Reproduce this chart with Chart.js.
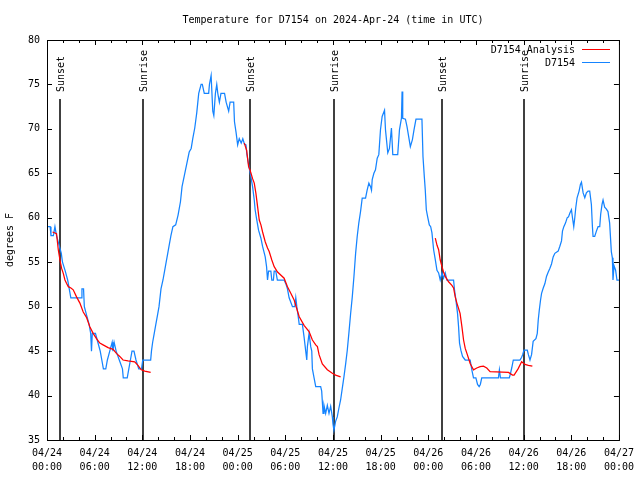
<!DOCTYPE html>
<html>
<head>
<meta charset="utf-8">
<script src="https://cdn.jsdelivr.net/npm/chart.js@4.4.1/dist/chart.umd.min.js"></script>
<style>
    html, body { margin: 0; padding: 0; background: #fff; }
</style>
</head>
<body>
<canvas id="tempChart" width="640" height="480"></canvas>
<script>
// ==========================================
// DATOS
// ==========================================

const chartTitle = 'Temperature for D7154 on 2024-Apr-24 (time in UTC)';
const seriesNames = ['D7154 Analysis', 'D7154'];

// hours since 04/24 00:00 UTC
const obsHours = [
    0, 0.4, 0.5, 0.8, 1.0, 1.2, 1.5, 1.8, 1.95, 2.3, 2.6, 2.8, 3.0, 4.3, 4.4, 4.6, 4.7, 5.0, 5.3, 5.5,
    5.6, 5.7, 6.1, 6.4, 6.7, 6.9, 7.1, 7.4, 7.6, 7.9, 8.2, 8.3, 8.45, 8.7, 9.1, 9.5, 9.6, 10.1, 10.3, 10.5,
    10.7, 10.95, 11.2, 11.55, 11.9, 12.05, 13.05, 13.15, 13.3, 13.5, 13.7, 13.9, 14.1, 14.35, 14.6, 14.8, 15.0, 15.2, 15.4, 15.6,
    15.85, 16.2, 16.5, 16.8, 17.0, 17.3, 17.6, 17.9, 18.15, 18.35, 18.6, 18.85, 19.1, 19.4, 19.55, 19.8, 20.35, 20.45, 20.66, 20.87,
    21.0, 21.2, 21.37, 21.5, 21.7, 21.9, 22.35, 22.55, 22.87, 23.05, 23.5, 23.6, 23.8, 24.0, 24.2, 24.45, 24.65, 24.85, 25.05, 25.15,
    25.45, 25.67, 25.88, 26.09, 26.2, 26.38, 26.63, 26.93, 27.13, 27.47, 27.64, 27.76, 27.89, 28.18, 28.3, 28.5, 28.6, 28.8, 29.0, 29.85,
    30.1, 30.27, 30.48, 30.9, 31.2, 31.32, 31.45, 31.61, 31.75, 32.15, 32.36, 32.57, 32.7, 32.78, 32.99, 33.2, 33.33, 33.41, 33.62, 33.83,
    34.45, 34.58, 34.75, 34.87, 35.08, 35.29, 35.5, 35.71, 35.92, 36.0, 36.12, 36.33, 36.54, 36.75, 36.96, 37.17, 37.38, 37.6, 37.8, 38.0,
    38.22, 38.43, 38.64, 38.85, 39.05, 39.25, 39.47, 39.68, 40.1, 40.3, 40.52, 40.73, 40.85, 40.94, 41.15, 41.35, 41.57, 41.77, 41.98, 42.19,
    42.49, 42.61, 42.9, 43.11, 43.36, 43.53, 44.15, 44.37, 44.62, 44.7, 44.78, 45.12, 45.32, 45.74, 46.0, 46.2, 46.45, 47.2, 47.33, 47.5,
    47.62, 47.75, 47.92, 48.13, 48.3, 48.46, 48.67, 48.88, 49.09, 49.3, 49.5, 49.72, 49.92, 50.13, 50.34, 51.18, 51.3, 51.47, 51.68, 51.81,
    51.93, 52.1, 52.31, 52.65, 53.27, 53.48, 53.69, 53.99, 54.2, 54.4, 54.55, 54.73, 56.83, 56.95, 57.08, 58.2, 58.35, 58.5, 58.7, 59.54,
    59.75, 59.88, 60.04, 60.46, 60.6, 60.8, 61.0, 61.2, 61.55, 61.72, 61.84, 61.97, 62.13, 62.26, 62.47, 62.68, 62.88, 63.1, 63.3, 63.51,
    63.72, 63.93, 64.35, 64.56, 64.77, 64.89, 65.06, 65.27, 65.48, 65.65, 65.81, 66.02, 66.15, 66.31, 66.44, 66.56, 66.73, 66.98, 67.15, 67.28,
    67.49, 67.7, 67.9, 68.11, 68.32, 68.53, 68.66, 68.74, 68.95, 69.16, 69.37, 69.58, 69.7, 69.87, 70.0, 70.2, 70.4, 70.62, 70.83, 71.04,
    71.17, 71.25, 71.38, 71.58, 71.75, 72.0
];
const obsTemps = [
    59, 59, 58, 58, 59, 58, 57, 56, 55, 54, 53, 52, 51, 51, 52, 52, 50, 49, 48, 47,
    45, 47, 47, 46, 45, 44, 43, 43, 44, 45, 46, 45, 46, 45, 44, 43, 42, 42, 43, 44,
    45, 45, 44, 43, 43, 44, 44, 45, 46, 47, 48, 49, 50, 52, 53, 54, 55, 56, 57, 58,
    59, 59.2, 60.3, 61.8, 63.5, 64.8, 66.1, 67.4, 67.8, 68.9, 70.1, 71.8, 74, 75, 75, 74, 74, 75, 76, 72,
    71.5, 74, 75, 74, 73, 74, 74, 73, 72, 73, 73, 70.8, 69.6, 68.2, 68.9, 68.4, 68.9, 68.3, 68.2, 67.2,
    65.6, 64.6, 63.5, 62, 60.9, 59.9, 58.6, 57.7, 56.8, 55.6, 54.5, 53, 54, 54, 53, 53, 54, 54, 53, 53,
    52.5, 52, 51, 50, 50, 51, 50, 49, 48, 48, 46.6, 45, 44, 45.5, 47, 45.5, 45, 43, 42, 41,
    41, 40.5, 38, 38.9, 38, 38.9, 38, 38.8, 37.6, 36.8, 36.1, 37.1, 37.6, 38.6, 39.5, 40.8, 42.1, 43.6, 45.1, 47,
    49.2, 51.1, 53.4, 56, 57.9, 59.4, 60.7, 62.2, 62.2, 63.1, 63.9, 63.5, 63.1, 64.3, 65, 65.4, 66.7, 67.1, 69.9, 71.4,
    72.1, 69.9, 67.3, 67.8, 70.1, 67.1, 67.1, 69.9, 71.2, 74.2, 71.2, 71.1, 70.25, 68, 68.8, 69.9, 71.1, 71.1, 66.9, 64.6,
    63.1, 60.9, 60.1, 59.2, 59, 58.3, 56.4, 55.3, 54.1, 53.8, 53, 53.8, 53.2, 53.8, 53, 53, 51.9, 50.8, 49.25, 47.75,
    45.9, 45.1, 44.4, 44, 44, 42.9, 42, 42, 41.25, 41, 41.25, 42, 42, 42.9, 42, 42, 42.5, 43.1, 44, 44,
    44.3, 44.6, 45.1, 45.1, 44.6, 44, 44.6, 46.1, 46.4, 47, 48.5, 49.6, 50.75, 51.5, 52.1, 52.6, 53.4, 53.9, 54.3, 54.8,
    55.6, 56, 56.25, 56.8, 57.4, 58.5, 59, 59.4, 60, 60.1, 60.5, 60.9, 60, 59, 60, 61.1, 62.25, 63, 63.75, 64,
    62.8, 62.25, 62.8, 63, 63, 61.5, 59, 57.9, 57.9, 58.5, 59, 59, 60.4, 61.5, 62, 61.2, 61, 60.7, 59.4, 56.2,
    55.5, 53, 54.6, 54.1, 53, 53
];

// analysis only at night, null = gap
const anaHours = [
    0.7, 1.2, 1.42, 1.63, 1.84, 2.05, 2.26, 2.47, 2.68, 3.01, 3.3, 3.72, 4.14, 4.56, 4.97, 5.39, 5.81, 6.23, 6.65, 7.06,
    7.69, 8.32, 8.74, 9.16, 9.57, 10.2, 11.04, 11.45, 11.87, 12.3, 13.05, 18,
    24.84, 25.13, 25.38, 25.55, 25.88, 26.09, 26.3, 26.51, 26.72, 26.93, 27.14, 27.47, 27.76, 27.97, 28.3, 28.6, 29.02, 29.85,
    30.27, 30.69, 31.11, 31.74, 32.36, 32.99, 33.41, 33.83, 34.04, 34.25, 34.66, 35.29, 35.92, 36.33, 36.96, 42,
    48.88, 49.1, 49.3, 49.5, 49.72, 49.92, 50.13, 50.55, 50.97, 51.18, 51.39, 51.6, 51.81, 52.0, 52.23, 52.44, 52.65, 52.86,
    53.06, 53.27, 53.69, 54.1, 54.52, 54.94, 55.36, 55.78, 58.1, 58.6, 58.8, 59.3, 59.75, 60.17, 60.6, 61.1
];
const anaTemps = [
    58.4, 58.2, 56.4, 55.25, 54.3, 53.75, 53, 52.6, 52.25, 52.1, 51.9, 51.1, 50.4, 49.4, 48.8, 47.75, 47, 46.4, 45.9, 45.7,
    45.4, 45.2, 44.75, 44.4, 44, 43.9, 43.8, 43.4, 42.9, 42.75, 42.6, null,
    68.4, 67.6, 65.75, 65.4, 64.4, 63.9, 62.75, 61.25, 59.75, 59.2, 58.4, 57.3, 56.6, 56.2, 55.25, 54.5, 53.9, 53.2,
    52.25, 51.5, 50.75, 48.9, 47.9, 47.2, 46.25, 45.7, 45.5, 44.6, 43.55, 42.9, 42.5, 42.3, 42.1, null,
    57.7, 56.9, 56.4, 55.25, 54.5, 53.9, 53.4, 52.8, 52.4, 52.1, 51.1, 50.4, 49.8, 49.25, 47.75, 46.25, 45.3, 44.75,
    44.2, 43.6, 42.9, 43.1, 43.25, 43.3, 43.1, 42.7, 42.6, 42.3, 42.3, 43.0, 43.8, 43.5, 43.4, 43.3
];

const sunHours = [1.6, 12.08, 25.6, 36.13, 49.75, 60.1];
const sunLabels = ['Sunset', 'Sunrise', 'Sunset', 'Sunrise', 'Sunset', 'Sunrise'];
const sunLineTop = 73.35;

const xTickLabels = [
    ['04/24', '00:00'], ['04/24', '06:00'], ['04/24', '12:00'], ['04/24', '18:00'],
    ['04/25', '00:00'], ['04/25', '06:00'], ['04/25', '12:00'], ['04/25', '18:00'],
    ['04/26', '00:00'], ['04/26', '06:00'], ['04/26', '12:00'], ['04/26', '18:00'],
    ['04/27', '00:00']
];

// ==========================================
// GRÁFICO
// ==========================================

const FONT = '10px "DejaVu Sans Mono"';
const RED = '#ff0000';
const BLUE = '#1584ff';

const gnuplotFrame = {
    id: 'gnuplotFrame',
    beforeDatasetsDraw(chart) {
        const { ctx, chartArea: a, scales: { x, y } } = chart;
        const top = y.getPixelForValue(sunLineTop);
        ctx.save();
        ctx.strokeStyle = '#000';
        ctx.fillStyle = '#000';
        ctx.lineWidth = 1.5;
        ctx.font = FONT;
        sunHours.forEach((h, i) => {
            const px = Math.round(x.getPixelForValue(h));
            ctx.beginPath();
            ctx.moveTo(px, top);
            ctx.lineTo(px, a.bottom);
            ctx.stroke();
            ctx.save();
            ctx.translate(px + 1, top - 7);
            ctx.rotate(-Math.PI / 2);
            ctx.textAlign = 'left';
            ctx.textBaseline = 'middle';
            ctx.fillText(sunLabels[i], 0, 0);
            ctx.restore();
        });
        ctx.restore();
    },
    afterDraw(chart) {
        const { ctx, chartArea: a, scales: { x, y } } = chart;
        ctx.save();
        ctx.strokeStyle = '#000';
        ctx.lineWidth = 1;
        ctx.strokeRect(a.left + 0.5, a.top + 0.5, a.right - a.left, a.bottom - a.top);

        // ticks inward
        ctx.beginPath();
        for (let h = 0; h <= 72; h += 2) {
            const px = Math.round(x.getPixelForValue(h)) + 0.5;
            const len = h % 6 === 0 ? 5 : 3;
            ctx.moveTo(px, a.bottom); ctx.lineTo(px, a.bottom - len);
            ctx.moveTo(px, a.top); ctx.lineTo(px, a.top + len);
        }
        for (let v = 35; v <= 80; v += 5) {
            const py = Math.round(y.getPixelForValue(v)) + 0.5;
            ctx.moveTo(a.left, py); ctx.lineTo(a.left + 5, py);
            ctx.moveTo(a.right, py); ctx.lineTo(a.right - 5, py);
        }
        ctx.stroke();

        ctx.fillStyle = '#000';
        ctx.font = FONT;
        ctx.textAlign = 'center';
        ctx.textBaseline = 'middle';
        ctx.fillText(chartTitle, (a.left + a.right) / 2, 20);

        ctx.save();
        ctx.translate(10, (a.top + a.bottom) / 2);
        ctx.rotate(-Math.PI / 2);
        ctx.fillText('degrees F', 0, 0);
        ctx.restore();

        // legend
        const colors = [RED, BLUE];
        ctx.textAlign = 'right';
        seriesNames.forEach((name, i) => {
            const ly = 50 + i * 13;
            ctx.fillStyle = '#000';
            ctx.fillText(name, 575, ly);
            ctx.strokeStyle = colors[i];
            ctx.beginPath();
            ctx.moveTo(582, ly - 0.5);
            ctx.lineTo(610, ly - 0.5);
            ctx.stroke();
        });
        ctx.restore();
    }
};

const ctx1 = document.getElementById('tempChart').getContext('2d');
const tempChart = new Chart(ctx1, {
    type: 'line',
    data: {
        datasets: [{
            label: seriesNames[0],
            data: anaHours.map((h, i) => ({ x: h, y: anaTemps[i] })),
            borderColor: RED,
            borderWidth: 1.25,
            pointRadius: 0,
            tension: 0,
            spanGaps: false,
            order: 0
        }, {
            label: seriesNames[1],
            data: obsHours.map((h, i) => ({ x: h, y: obsTemps[i] })),
            borderColor: BLUE,
            borderWidth: 1.25,
            pointRadius: 0,
            tension: 0,
            order: 1
        }]
    },
    options: {
        responsive: false,
        animation: false,
        events: [],
        layout: { padding: { left: 0, right: 19, top: 40, bottom: 0 } },
        plugins: {
            legend: { display: false },
            tooltip: { enabled: false }
        },
        scales: {
            x: {
                type: 'linear',
                min: 0,
                max: 72,
                grid: { display: false, drawTicks: false },
                border: { display: false },
                ticks: {
                    stepSize: 6,
                    autoSkip: false,
                    maxRotation: 0,
                    padding: 6,
                    color: '#000',
                    font: { family: 'DejaVu Sans Mono', size: 10, lineHeight: 1.4 },
                    callback: v => xTickLabels[Math.round(v / 6)]
                },
                afterFit: s => { s.height = 40; }
            },
            y: {
                min: 35,
                max: 80,
                grid: { display: false, drawTicks: false },
                border: { display: false },
                ticks: {
                    stepSize: 5,
                    padding: 7,
                    color: '#000',
                    font: { family: 'DejaVu Sans Mono', size: 10 }
                },
                afterFit: s => { s.width = 47; }
            }
        }
    },
    plugins: [gnuplotFrame]
});
</script>
</body>
</html>
